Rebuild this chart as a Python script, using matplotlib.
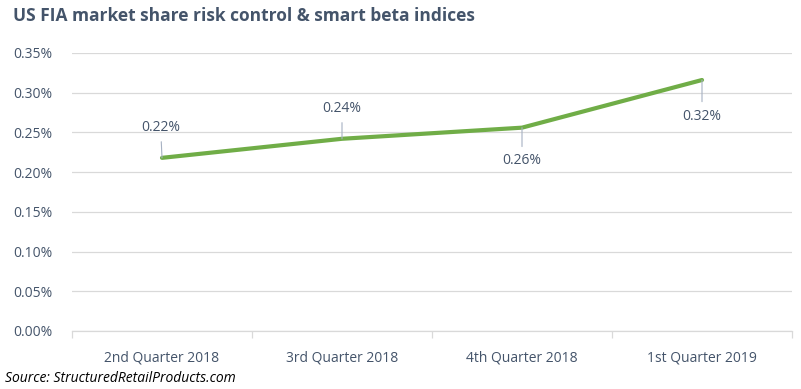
import numpy as np
import matplotlib.pyplot as plt

# data
quarters = ['2nd Quarter 2018', '3rd Quarter 2018', '4th Quarter 2018', '1st Quarter 2019']
share = [0.218, 0.242, 0.256, 0.316]   # percent
labels = ['0.22%', '0.24%', '0.26%', '0.32%']
yticks = [0.00, 0.05, 0.10, 0.15, 0.20, 0.25, 0.30, 0.35]

# label offsets in points (dx, dy)
label_offsets = [(-1, 22), (0, 22), (0, -24), (0, -26)]

txt = '#44546A'
grid = '#D9D9D9'
green = '#70AD47'
plt.rcParams['font.family'] = ['Open Sans', 'DejaVu Sans']

fig = plt.figure(figsize=(8.01, 3.89), dpi=100)
ax = fig.add_axes([72/801, 1 - 331/389, 720/801, (331-53)/389])

x = np.arange(len(quarters))
ax.plot(x, share, color=green, lw=3.0, solid_capstyle='round', zorder=3)

for xi, yi, lab, (dx, dy) in zip(x, share, labels, label_offsets):
    ax.annotate(lab, xy=(xi, yi), xytext=(dx, dy), textcoords='offset points',
                ha='center', va='center', fontsize=10, color=txt,
                arrowprops=dict(arrowstyle='-', color='#A6B1C2', lw=0.8,
                                shrinkA=3, shrinkB=0))

ax.set_xlim(-0.5, len(quarters) - 0.5)
ax.set_ylim(0, 0.35)
ax.set_yticks(yticks)
ax.set_yticklabels(['%.2f%%' % v for v in yticks])
ax.yaxis.grid(True, color=grid, lw=0.9)
ax.set_axisbelow(True)

ax.set_xticks(x)
ax.set_xticklabels(quarters)
ax.set_xticks(np.arange(-0.5, len(quarters)), minor=True)
ax.tick_params(axis='x', which='major', length=0, pad=14, labelsize=10, labelcolor=txt)
ax.tick_params(axis='x', which='minor', length=5, color=grid, width=0.9)
ax.tick_params(axis='y', length=0, pad=14, labelsize=10, labelcolor=txt)

for s in ['top', 'right', 'left']:
    ax.spines[s].set_visible(False)
ax.spines['bottom'].set_color(grid)
ax.spines['bottom'].set_linewidth(0.9)

fig.text(13/801, 1 - 16/389, 'US FIA market share risk control & smart beta indices',
         fontsize=12.5, fontweight='bold', color=txt, ha='left', va='center')
fig.text(5/801, 1 - 378/389, 'Source: StructuredRetailProducts.com',
         fontsize=10, style='italic', color='black', ha='left', va='center')

fig.savefig('out.png', dpi=100)
